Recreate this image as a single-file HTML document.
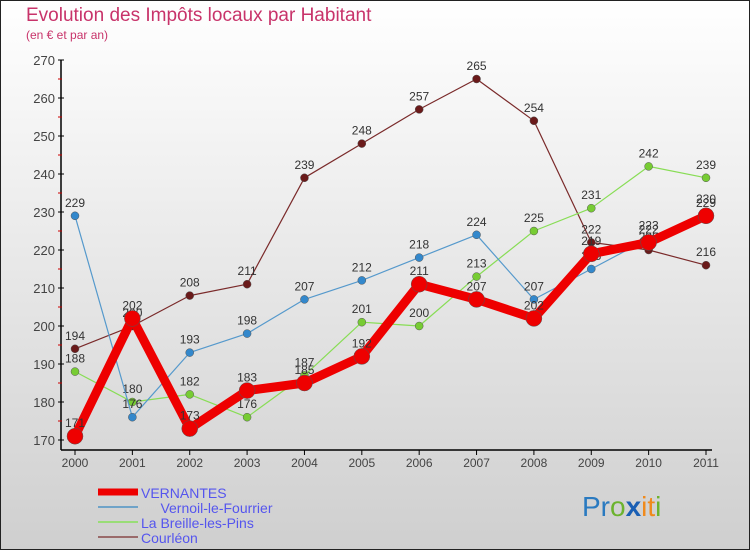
<!DOCTYPE html>
<html><head><meta charset="utf-8"><style>
body{margin:0;width:750px;height:550px;overflow:hidden;font-family:"Liberation Sans",sans-serif}
svg text{font-family:"Liberation Sans",sans-serif}
</style></head><body>
<svg id="chart" width="750" height="550" viewBox="0 0 750 550">
<defs><linearGradient id="bg" x1="0" y1="0" x2="0" y2="1"><stop offset="0" stop-color="#ffffff"/><stop offset="1" stop-color="#cfcfcf"/></linearGradient></defs>
<rect x="0.5" y="0.5" width="749" height="549" fill="url(#bg)" stroke="#222"/>
<text x="26" y="21" font-size="19" fill="#c8336a">Evolution des Impôts locaux par Habitant</text>
<text x="26" y="39" font-size="12" fill="#c8336a">(en € et par an)</text>
<g id="axes"></g><g id="series"></g><g id="legend"></g>
<text x="582" y="516" font-size="28" font-family="'DejaVu Sans',sans-serif"><tspan fill="#2a7ac0">Pr</tspan><tspan fill="#6cb32e">o</tspan><tspan fill="#1a5fb4" font-weight="bold">x</tspan><tspan fill="#f08a1c">it</tspan><tspan fill="#6cb32e">i</tspan></text>
</svg>
<script>
const years=[2000,2001,2002,2003,2004,2005,2006,2007,2008,2009,2010,2011];
const yTicks=[170,180,190,200,210,220,230,240,250,260,270];
const vernantes=[171,202,173,183,185,192,211,207,202,219,222,229];
const vernoil=[229,176,193,198,207,212,218,224,207,215,223,230];
const breille=[188,180,182,176,187,201,200,213,225,231,242,239];
const courleon=[194,200,208,211,239,248,257,265,254,222,220,216];
const NS="http://www.w3.org/2000/svg";
const x=i=>75+i*(706-75)/(years.length-1);
const y=v=>440-(v-170)*3.8;
function mk(t,a,p){const e=document.createElementNS(NS,t);for(const k in a)e.setAttribute(k,a[k]);p.appendChild(e);return e;}
const ax=document.getElementById('axes');
let l=mk('line',{x1:61,y1:y(270),x2:61,y2:450,stroke:'#000','stroke-width':1.5},ax);


l=mk('line',{x1:61,y1:450,x2:712,y2:450,stroke:'#000','stroke-width':1.5},ax);


yTicks.forEach(v=>{
 mk('line',{x1:58,y1:y(v),x2:64,y2:y(v),stroke:'#000'},ax);
 if(v<270)mk('line',{x1:58,y1:y(v+5),x2:62,y2:y(v+5),stroke:'#c00'},ax);
 const t=mk('text',{x:55,y:y(v)+5,'text-anchor':'end','font-size':13,fill:'#444'},ax);t.textContent=v;
 
 
});
years.forEach((yr,i)=>{
 mk('line',{x1:x(i),y1:450,x2:x(i),y2:455,stroke:'#000'},ax);
 const t=mk('text',{x:x(i),y:467,'text-anchor':'middle','font-size':12,fill:'#444'},ax);t.textContent=yr;
 
 
});
const S=document.getElementById('series');
function draw(data,color,w,r,name,dot){
 const g=mk('g',{},S);
 
 
 const p=mk('polyline',{points:data.map((v,i)=>x(i)+','+y(v)).join(' '),fill:'none',stroke:color,'stroke-width':w,'stroke-linejoin':'round'},g);
 
 
 data.forEach((v,i)=>{
  const c=mk('circle',{cx:x(i),cy:y(v),r:r,fill:dot,stroke:'#555','stroke-width':0.5},g);
  
  
  const t=mk('text',{x:x(i),y:y(v)-9,'text-anchor':'middle','font-size':12,fill:'#333'},g);t.textContent=v;
  
  
 });
}
draw(courleon,'#7a2a2a',1.2,4,'courleon','#6a1a1a');
draw(breille,'#88dd55',1.2,4,'breille','#77cc33');
draw(vernoil,'#5599cc',1.2,4,'vernoil','#3388cc');
draw(vernantes,'#ee0000',9,8,'vernantes','#ee0000');
const L=document.getElementById('legend');
[['VERNANTES','#ee0000',7,''],['Vernoil-le-Fourrier','#6fa3c8',2,'\u00a0\u00a0\u00a0\u00a0\u00a0'],['La Breille-les-Pins','#99dd77',2,''],['Courléon','#9a6a6a',2,'']].forEach((d,i)=>{
 const yy=492+i*15;
 const g=mk('g',{},L);
 
 
 mk('line',{x1:98,y1:yy,x2:138,y2:yy,stroke:d[1],'stroke-width':d[2]},g);
 const t=mk('text',{x:141,y:yy+6,'font-size':14,fill:'#5555ee'},g);t.textContent=d[3]+d[0];
});
</script>
</body></html>
